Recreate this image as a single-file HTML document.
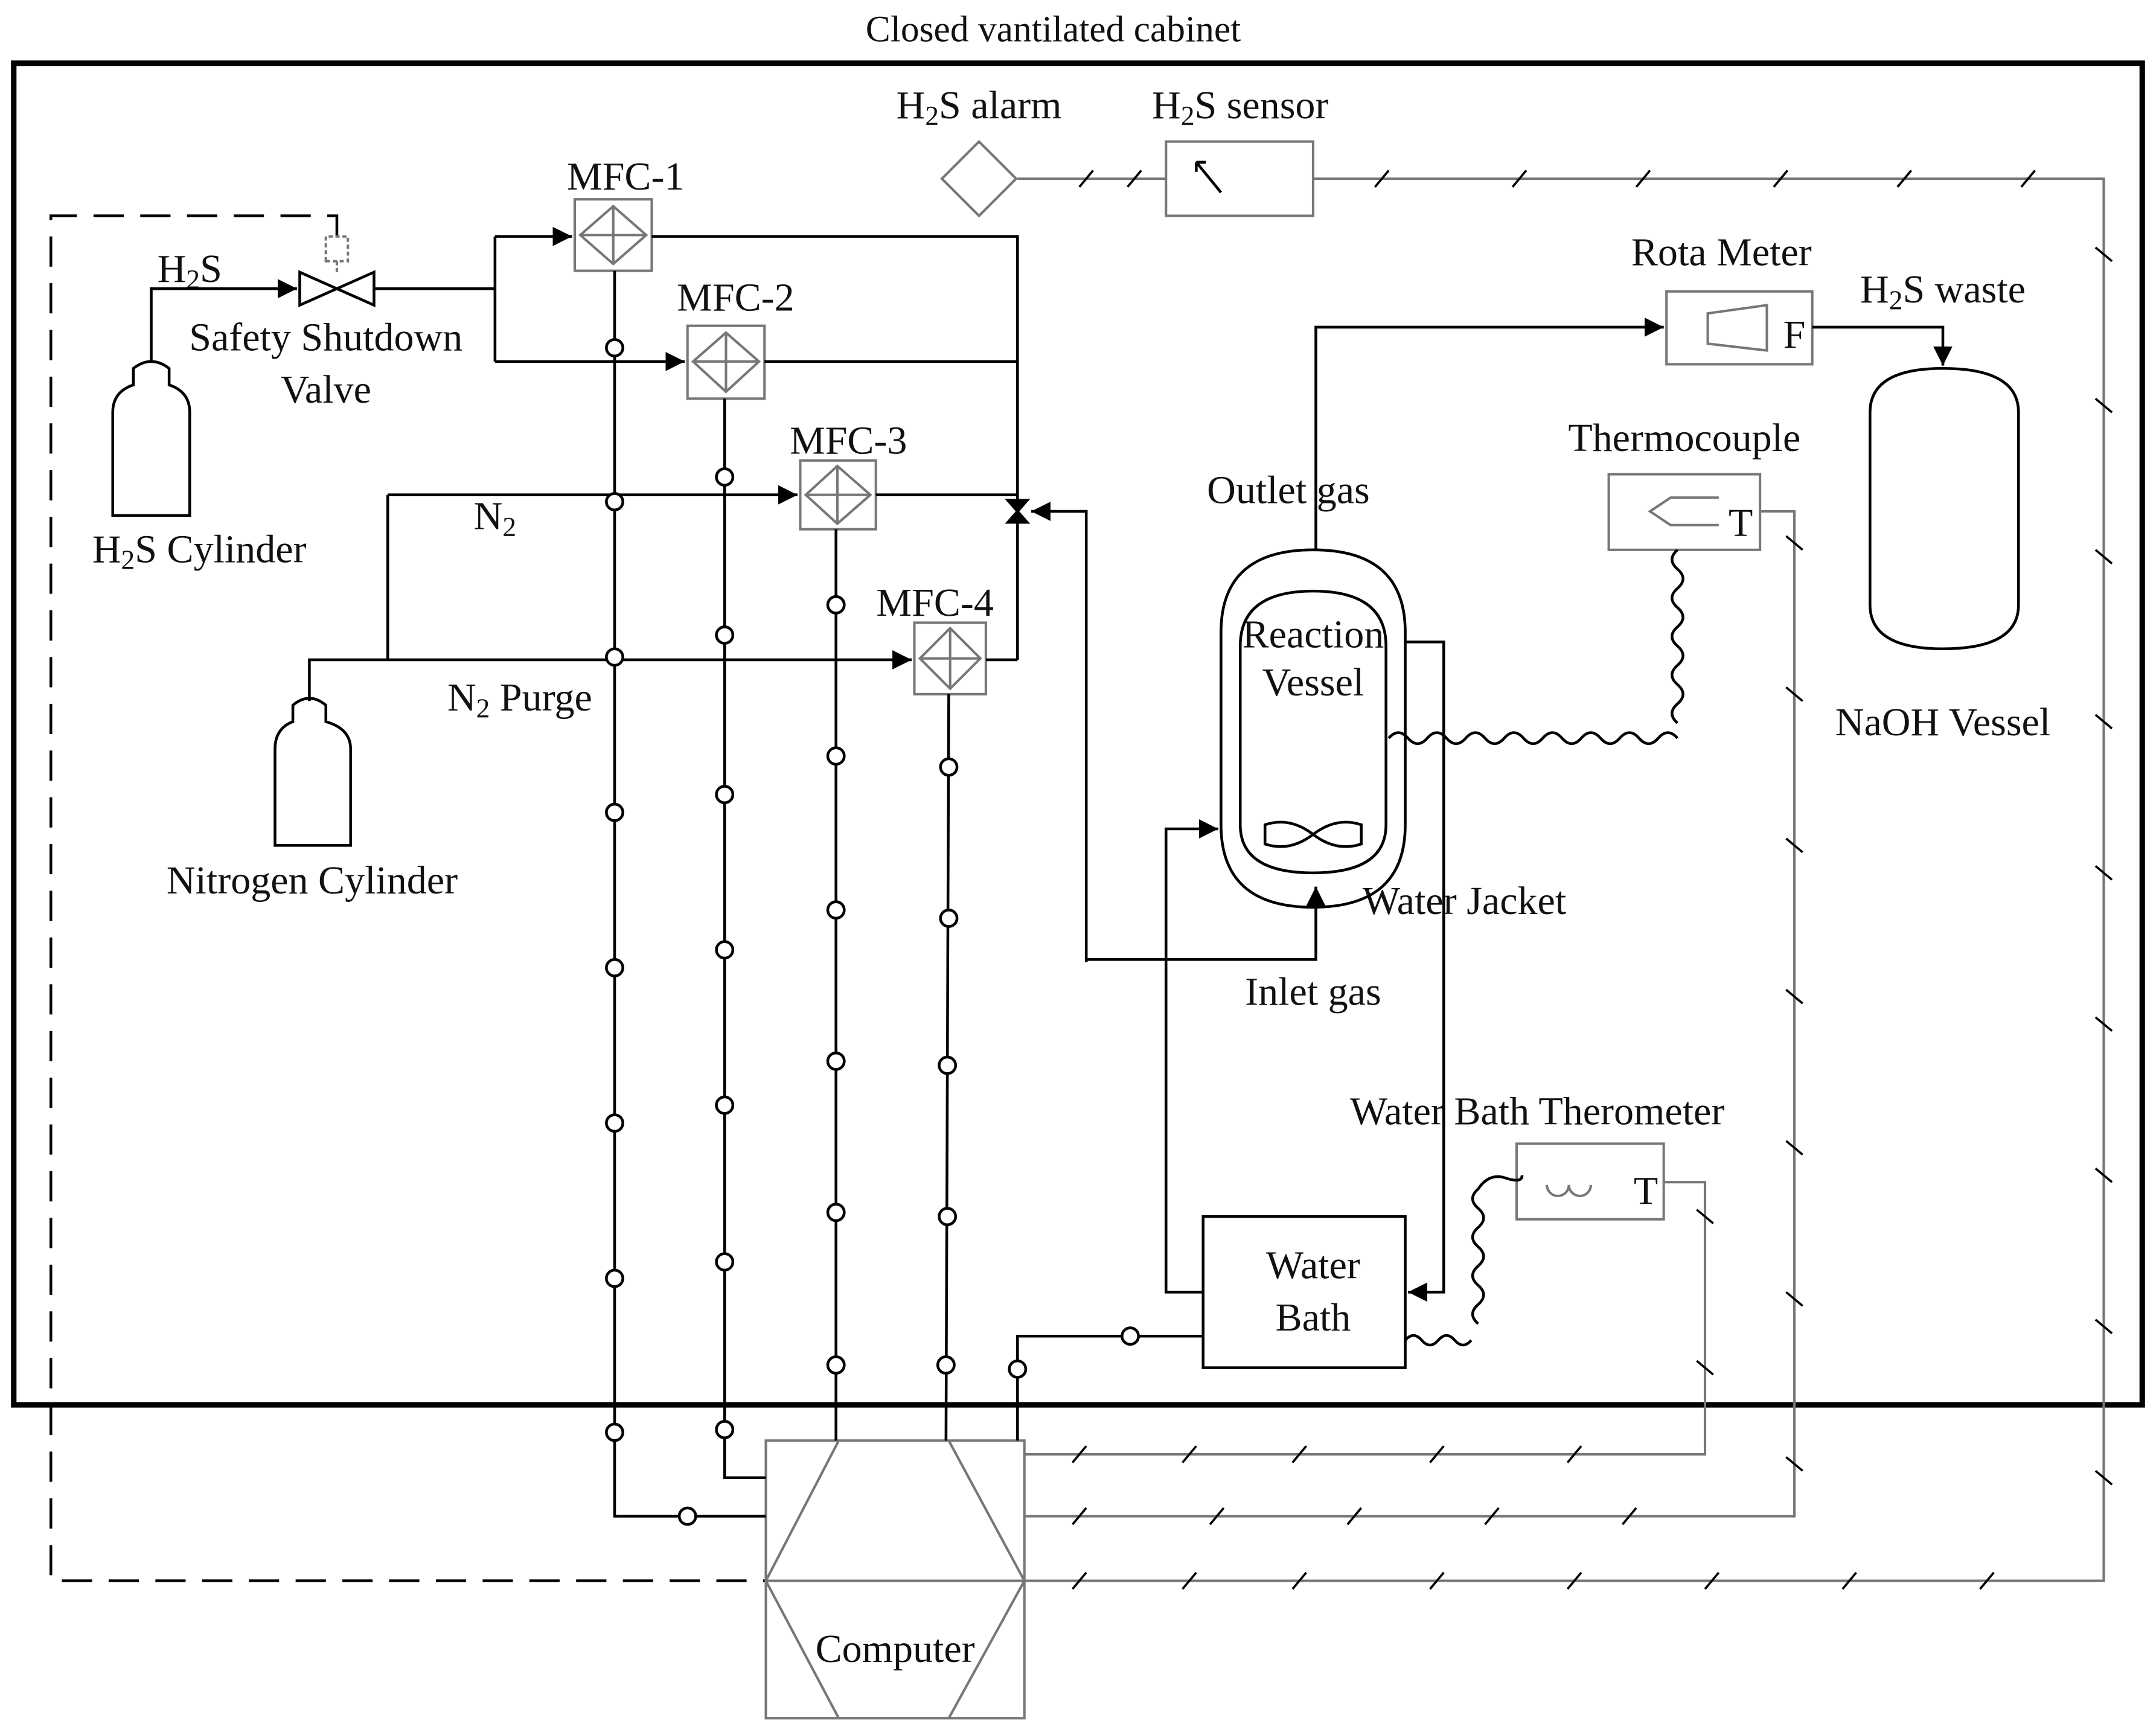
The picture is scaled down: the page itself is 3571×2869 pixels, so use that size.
<!DOCTYPE html>
<html><head><meta charset="utf-8"><style>
html,body{margin:0;padding:0;background:#fff}
svg{display:block}
text{font-family:"Liberation Serif",serif;fill:#111}
</style></head><body>
<svg width="3571" height="2869" viewBox="0 0 1568 1260" preserveAspectRatio="none" xmlns="http://www.w3.org/2000/svg">
<defs>
<marker id="ar" viewBox="0 0 10 10" refX="10" refY="5" markerWidth="7" markerHeight="7" orient="auto"><path d="M0,0L10,5L0,10z" fill="#000"/></marker>
</defs>
<rect width="1568" height="1260" fill="#fff"/>
<text x="766" y="30" font-size="27" text-anchor="middle">Closed vantilated cabinet</text>
<rect x="10" y="46" width="1548" height="976" fill="none" stroke="#000" stroke-width="4"/>
<path d="M245,172 V157 H37 V1150 H557" fill="none" stroke="#000" stroke-width="2" stroke-dasharray="22,12"/>

<g font-size="29" text-anchor="middle">
<text x="712" y="86">H<tspan font-size="20" dy="5">2</tspan><tspan dy="-5">S alarm</tspan></text>
<text x="902" y="86">H<tspan font-size="20" dy="5">2</tspan><tspan dy="-5">S sensor</tspan></text>
<text x="455" y="138">MFC-1</text>
<text x="535" y="226">MFC-2</text>
<text x="617" y="330">MFC-3</text>
<text x="680" y="448">MFC-4</text>
<text x="138" y="205">H<tspan font-size="20" dy="5">2</tspan><tspan dy="-5">S</tspan></text>
<text x="237" y="255">Safety Shutdown</text>
<text x="237" y="293">Valve</text>
<text x="145" y="409">H<tspan font-size="20" dy="5">2</tspan><tspan dy="-5">S Cylinder</tspan></text>
<text x="360" y="385">N<tspan font-size="20" dy="5">2</tspan></text>
<text x="378" y="517">N<tspan font-size="20" dy="5">2</tspan><tspan dy="-5"> Purge</tspan></text>
<text x="227" y="650">Nitrogen Cylinder</text>
<text x="1252" y="193">Rota Meter</text>
<text x="1413" y="220">H<tspan font-size="20" dy="5">2</tspan><tspan dy="-5">S waste</tspan></text>
<text x="1225" y="328">Thermocouple</text>
<text x="937" y="366">Outlet  gas</text>
<text x="955" y="471">Reaction</text>
<text x="955" y="506">Vessel</text>
<text x="1413" y="535">NaOH Vessel</text>
<text x="1065" y="665">Water Jacket</text>
<text x="955" y="731">Inlet  gas</text>
<text x="1118" y="818">Water  Bath Therometer</text>
<text x="955" y="930">Water</text>
<text x="955" y="968">Bath</text>
<text x="651" y="1209">Computer</text>
<text x="1305" y="253">F</text>
<text x="1266" y="390">T</text>
<text x="1197" y="876">T</text>
</g>

<g fill="none" stroke="#777" stroke-width="1.8">
<path d="M740,130 H848 M955,130 H1530 V1150 H745"/>
<path d="M1280,372 H1305 V1103 H745"/>
<path d="M1210,860 H1240 V1058 H745"/>
<rect x="848" y="103" width="107" height="54"/>
<rect x="1212" y="212" width="106" height="53"/>
<rect x="1170" y="345" width="110" height="55"/>
<rect x="1103" y="832" width="107" height="55"/>
<path d="M1242,228 L1285,222 V255 L1242,250 Z"/>
<path d="M1250,362 H1215 L1200,372 L1215,382 H1250"/>
<path d="M1125,862 a8,8 0 0 0 16,0 a8,8 0 0 0 16,0"/>
<path d="M712,103 L739,130 L712,157 L685,130 Z"/>
<rect x="418" y="145" width="56" height="52"/><path d="M446,150 L470,171 L446,192 L422,171 Z M422,171 H470 M446,150 V192"/>
<rect x="500" y="237" width="56" height="53"/><path d="M528,242 L552,263 L528,285 L504,263 Z M504,263 H552 M528,242 V285"/>
<rect x="582" y="335" width="55" height="50"/><path d="M609,339 L633,360 L609,381 L586,360 Z M586,360 H633 M609,339 V381"/>
<rect x="665" y="453" width="52" height="52"/><path d="M691,457 L713,479 L691,501 L669,479 Z M669,479 H713 M691,457 V501"/>
<path d="M557,1048 H745 V1250 H557 Z M610,1048 L557,1150 L610,1250 M690,1048 L745,1150 L690,1250 M557,1150 H745"/>
<path d="M237,190 V172 H253 V190 Z M245,190 V200" stroke-dasharray="3,2"/>
</g>
<path d="M870,118 L888,140 M870,118 v7 M870,118 h7" stroke="#000" stroke-width="2" fill="none"/>
<g stroke="#000" stroke-width="1.6">
<path d="M785,136 l10,-12 M820,136 l10,-12 M1000,136 l10,-12 M1100,136 l10,-12 M1190,136 l10,-12 M1290,136 l10,-12 M1380,136 l10,-12 M1470,136 l10,-12"/>
<path d="M1524,180 l12,10 M1524,290 l12,10 M1524,400 l12,10 M1524,520 l12,10 M1524,630 l12,10 M1524,740 l12,10 M1524,850 l12,10 M1524,960 l12,10 M1524,1070 l12,10"/>
<path d="M1299,390 l12,10 M1299,500 l12,10 M1299,610 l12,10 M1299,720 l12,10 M1299,830 l12,10 M1299,940 l12,10 M1299,1060 l12,10"/>
<path d="M1234,880 l12,10 M1234,990 l12,10"/>
<path d="M780,1156 l10,-12 M860,1156 l10,-12 M940,1156 l10,-12 M1040,1156 l10,-12 M1140,1156 l10,-12 M1240,1156 l10,-12 M1340,1156 l10,-12 M1440,1156 l10,-12"/>
<path d="M780,1109 l10,-12 M880,1109 l10,-12 M980,1109 l10,-12 M1080,1109 l10,-12 M1180,1109 l10,-12"/>
<path d="M780,1064 l10,-12 M860,1064 l10,-12 M940,1064 l10,-12 M1040,1064 l10,-12 M1140,1064 l10,-12"/>
</g>

<g fill="none" stroke="#000" stroke-width="2">
<path d="M110,262 V210 H216" marker-end="url(#ar)"/>
<path d="M218,198 L272,222 V198 L218,222 Z"/>
<path d="M272,210 H360 M360,172 V263"/>
<path d="M360,172 H416" marker-end="url(#ar)"/>
<path d="M360,263 H498" marker-end="url(#ar)"/>
<path d="M474,172 H740 V480 M556,263 H740 M637,360 H740 M717,480 H740"/>
<path d="M282,360 H580" marker-end="url(#ar)"/>
<path d="M282,360 V480"/>
<path d="M225,510 V480 H663" marker-end="url(#ar)"/>
<path d="M733,364 L747,364 L733,380 L747,380 Z" fill="#000"/>
<path d="M790,700 V372 H750" marker-end="url(#ar)"/>
<path d="M790,698 H957 V645" marker-end="url(#ar)"/>
<path d="M957,400 V238 H1210" marker-end="url(#ar)"/>
<path d="M1318,238 H1413 V266" marker-end="url(#ar)"/>
<path d="M875,940 H848 V603 H886" marker-end="url(#ar)"/>
<path d="M1022,467 H1050 V940 H1024" marker-end="url(#ar)"/>
<rect x="875" y="885" width="147" height="110"/>
<path d="M888,460 Q888,400 955,400 Q1022,400 1022,460 V600 Q1022,660 955,660 Q888,660 888,600 Z"/>
<path d="M902,470 Q902,430 955,430 Q1008,430 1008,470 V600 Q1008,635 955,635 Q902,635 902,600 Z"/>
<path d="M920,600 Q938,594 955,607 Q938,620 920,614 Z M990,600 Q972,594 955,607 Q972,620 990,614 Z"/>
<path d="M1360,300 Q1360,268 1413,268 Q1468,268 1468,300 V440 Q1468,472 1413,472 Q1360,472 1360,440 Z"/>
<path d="M82,375 V300 Q82,285 97,280 V268 Q110,258 123,268 V280 Q138,285 138,300 V375 Z"/>
<path d="M200,615 V545 Q200,530 213,525 V513 Q225,503 237,513 V525 Q255,530 255,545 V615 Z"/>
<path d="M447,197 V1103 H557 M527,290 V1075 H557 M608,385 V1048 M690,505 L688,1048 M875,972 H740 V1048"/>
<path d="M1010,537 q7,-8 14,0 t14,0 t14,0 t14,0 t14,0 t14,0 t14,0 t14,0 t14,0 t14,0 t14,0 t14,0 t14,0 t14,0 t14,0"/>
<path d="M1220,400 q-8,7 0,14 t0,14 t0,14 t0,14 t0,14 t0,14 t0,14 t0,14 t0,14"/>
<path d="M1022,975 q6,-7 12,0 t12,0 t12,0 t12,0"/>
<path d="M1075,865 q-8,7 0,14 t0,14 t0,14 t0,14 t0,14 t0,14 t0,14 M1075,865 q8,-12 20,-8 t12,-2"/>
</g>
<g fill="#fff" stroke="#000" stroke-width="2">
<circle cx="447" cy="253" r="6"/><circle cx="447" cy="365" r="6"/><circle cx="447" cy="478" r="6"/><circle cx="447" cy="591" r="6"/><circle cx="447" cy="704" r="6"/><circle cx="447" cy="817" r="6"/><circle cx="447" cy="930" r="6"/><circle cx="447" cy="1042" r="6"/><circle cx="500" cy="1103" r="6"/>
<circle cx="527" cy="347" r="6"/><circle cx="527" cy="462" r="6"/><circle cx="527" cy="578" r="6"/><circle cx="527" cy="691" r="6"/><circle cx="527" cy="804" r="6"/><circle cx="527" cy="918" r="6"/><circle cx="527" cy="1040" r="6"/>
<circle cx="608" cy="440" r="6"/><circle cx="608" cy="550" r="6"/><circle cx="608" cy="662" r="6"/><circle cx="608" cy="772" r="6"/><circle cx="608" cy="882" r="6"/><circle cx="608" cy="993" r="6"/>
<circle cx="690" cy="558" r="6"/><circle cx="690" cy="668" r="6"/><circle cx="689" cy="775" r="6"/><circle cx="689" cy="885" r="6"/><circle cx="688" cy="993" r="6"/>
<circle cx="822" cy="972" r="6"/><circle cx="740" cy="996" r="6"/>
</g>
</svg>
</body></html>
